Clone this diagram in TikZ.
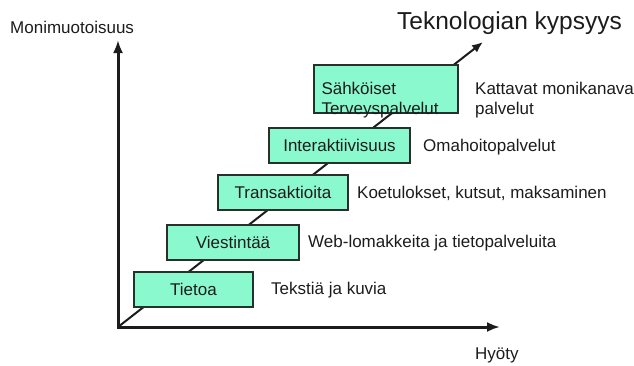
\documentclass[tikz,border=0pt]{standalone}
\usepackage{fontspec}
\setmainfont{Liberation Sans}
\usetikzlibrary{arrows.meta}
\definecolor{stagefill}{RGB}{138,249,206}
\definecolor{ink}{RGB}{28,28,28}
\definecolor{edge}{RGB}{40,48,44}
\begin{document}
\begin{tikzpicture}[x=1pt,y=-1pt,
  stage/.style={draw=edge, line width=1.4pt, fill=stagefill, text=ink,
    inner sep=0pt, minimum height=35pt, font=\fontsize{17}{20}\selectfont},
  note/.style={anchor=west, text=ink, inner sep=0pt, align=left,
    font=\fontsize{17}{20}\selectfont},
  axis/.style={line width=3pt, draw=ink,
    {Latex[length=13pt,width=10pt]}-{Latex[length=13pt,width=10pt]}},
  trend/.style={line width=2pt, draw=ink, -{Latex[length=11pt,width=9pt]}}]
\useasboundingbox (0,0) rectangle (634,365);

% axes and the maturity trend line
\coordinate (O) at (118,327);
\coordinate (ytip) at (118,40);
\coordinate (xtip) at (500,327);
\coordinate (ttip) at (483,42);
\draw[axis] (ytip) -- (O) -- (xtip);
\draw[trend] (O) -- (ttip);

% stages, lying on the trend line
\node[stage, minimum width=119pt] (s1) at (193.5,289.5) {Tietoa};
\node[stage, minimum width=132pt] (s2) at (233,242.5) {Viestintää};
\node[stage, minimum width=130pt] (s3) at (283,192.5) {Transaktioita};
\node[stage, minimum width=141pt] (s4) at (339.5,145.5) {Interaktiivisuus};
\node[stage, minimum width=144pt, minimum height=48pt, text width=129pt,
      align=left, font=\fontsize{17}{20}\selectfont,
      text height=29pt, text depth=19pt] (s5) at (386,89) {Sähköiset\\Terveyspalvelut};

% descriptions of each stage
\node[note] (d1) at (271,290) {Tekstiä ja kuvia};
\node[note] (d2) at (308,243) {Web-lomakkeita ja tietopalveluita};
\node[note] (d3) at (357,193) {Koetulokset, kutsut, maksaminen};
\node[note] (d4) at (423,147) {Omahoitopalvelut};
\node[note] (d5) at (475,100) {Kattavat monikanava\\palvelut};

% axis titles
\node[note] (ylab) at (10,27) {Monimuotoisuus};
\node[note] (xlab) at (475,355) {Hyöty};
\node[note, font=\fontsize{24.5}{28}\selectfont] (tlab) at (397,23) {Teknologian kypsyys};
\end{tikzpicture}
\end{document}
